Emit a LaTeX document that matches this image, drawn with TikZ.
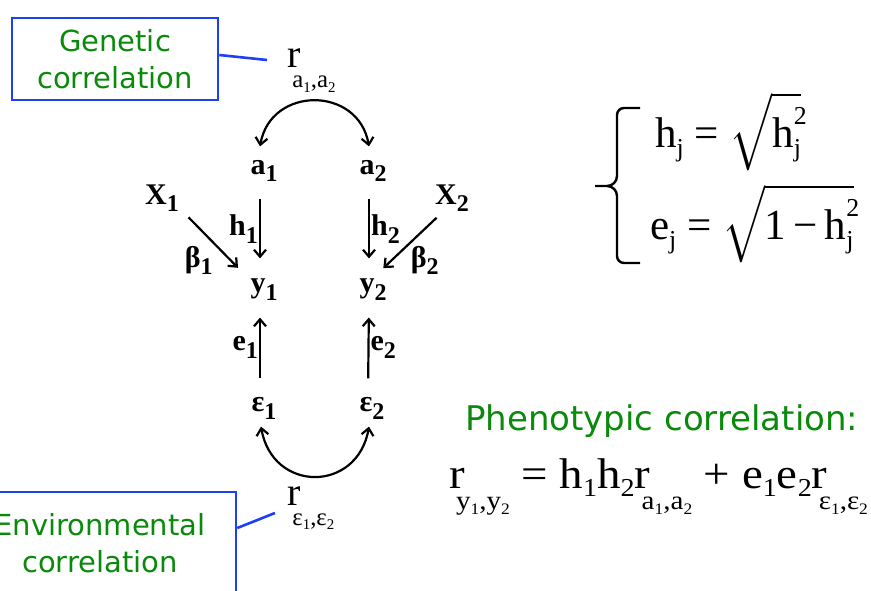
\documentclass[tikz,border=0pt]{standalone}
\usepackage{exscale}
\usepackage{fontspec}
\setmainfont{Liberation Serif}
\newfontfamily\handfont{DejaVu Sans}
\newfontfamily\widefont[FakeStretch=1.09]{Liberation Serif}
\usepackage{graphicx}
\usetikzlibrary{arrows.meta,positioning}
\definecolor{boxblue}{HTML}{1E40F5}
\definecolor{labgreen}{HTML}{0A8A0A}
% subscripts as the slide sets them
\newcommand{\dn}[1]{\kern-.2em\raisebox{-.5em}{\scalebox{.62}{#1}}}
\newcommand{\ix}[1]{\raisebox{-.2em}{\scalebox{.6}{#1}}}
\newcommand{\bx}[1]{\raisebox{-.25em}{\scalebox{.8}{#1}}}
\newcommand{\sqj}{\rlap{\raisebox{.55em}{\scalebox{.6}{2}}}\ix{j}}
\newcommand{\rt}[1]{\scalebox{1.72}{\fontsize{25}{25}\selectfont$\sqrt{\hbox{#1}}$}}

\begin{document}
\begin{tikzpicture}[x=1pt, y=-1pt, >={Straight Barb[length=7pt,width=12pt]}, line width=2.2pt,
  callout/.style={draw=boxblue, line width=2.6pt, text=labgreen, font=\handfont\fontsize{29}{37}\selectfont, align=center},
  var/.style={font=\bfseries\fontsize{30}{30}\selectfont, inner sep=0pt, text height=15pt, text depth=6pt},
  coef/.style={font=\bfseries\fontsize{30}{30}\selectfont, inner sep=1pt},
  rlab/.style={font=\fontsize{40}{40}\selectfont, inner sep=0pt, anchor=base west},
  eq/.style={font=\fontsize{43}{43}\selectfont, inner sep=0pt, anchor=base west},
  link/.style={->, shorten <=17pt, shorten >=18pt}]
\useasboundingbox (0,0) rectangle (871,591);

% correlation boxes and their labels
\node[callout, minimum width=206pt, minimum height=82pt] (gen) at (115,59) {Genetic\\correlation};
\node[callout, minimum width=272pt, minimum height=102pt] (env) at (100,543) {Environmental\\correlation};
\node[rlab] (rA) at (286,68) {r\dn{a\ix{1},a\ix{2}}};
\node[rlab] (rE) at (286,505) {r\dn{ε\ix{1},ε\ix{2}}};
\draw[boxblue, line width=2.6pt] ([yshift=4pt]gen.east) -- ([shift={(-19pt,8pt)}]rA.base west);
\draw[boxblue, line width=2.6pt] ([yshift=15pt]env.east) -- ([shift={(-11pt,-8pt)}]rE.base west);

% path diagram
\node[var] (a1) at (264,170) {a\bx{1}};
\node[var] (a2) at (373,170) {a\bx{2}};
\node[var] (X1) at (162,200) {X\bx{1}};
\node[var] (X2) at (452,200) {X\bx{2}};
\node[var] (y1) at (264,288) {y\bx{1}};
\node[var] (y2) at (373,288) {y\bx{2}};
\node[var] (ep1) at (264,407) {ε\bx{1}};
\node[var] (ep2) at (372,407) {ε\bx{2}};

\foreach \i/\s in {1/left,2/right} {
  \draw[link] ([xshift=-4pt]a\i.south) -- node[coef,\s]{h\bx{\i}} ([xshift=-4pt]y\i.north);
  \draw[link] ([xshift=-4pt]ep\i.north) -- node[coef,\s]{e\bx{\i}} ([xshift=-4pt]y\i.south);
}
\draw[->, shorten <=8pt, shorten >=12pt] ([xshift=3pt]X1.south east) -- node[coef, below left, pos=.5]{β\bx{1}} ([xshift=-3pt]y1.north west);
\draw[->, shorten <=9pt, shorten >=12pt] ([xshift=9pt]X2.south west) -- node[coef, below right, pos=.5]{β\bx{2}} ([xshift=-13pt]y2.north east);
\draw[<->] ([shift={(-4pt,12pt)}]a1.north) to[out=80, in=100, looseness=1.45] ([shift={(-4pt,12pt)}]a2.north);
\draw[<->] ([shift={(-3pt,-8pt)}]ep1.south) to[out=-80, in=-100, looseness=1.6] ([shift={(-3pt,-8pt)}]ep2.south);

% heritability relations
\draw[line width=2.4pt] (640,108) -- (624,108) to[out=180, in=90] (617,115) -- (617,176)
  to[out=-90, in=0] (607,186) -- (595,186) -- (607,186) to[out=0, in=90] (617,196) -- (617,256)
  to[out=-90, in=180] (624,263) -- (640,263);
\node[eq] (hj) at (654,148) {h\ix{j} = \rt{h\sqj}};
\node[eq] (ej) at (649,240) {e\ix{j} = \rt{1\,−\,h\sqj}};

% phenotypic correlation
\node[font=\handfont\fontsize{34}{34}\selectfont, text=labgreen, inner sep=0pt, anchor=base west] (phen) at (464,430) {Phenotypic correlation:};
\node[eq, font=\widefont\fontsize{43}{43}\selectfont] (rho) at (448,488) {r\dn{y\ix{1},y\ix{2}} = h\ix{1}h\ix{2}r\dn{a\ix{1},a\ix{2}} + e\ix{1}e\ix{2}r\dn{ε\ix{1},ε\ix{2}}};
\end{tikzpicture}
\end{document}
